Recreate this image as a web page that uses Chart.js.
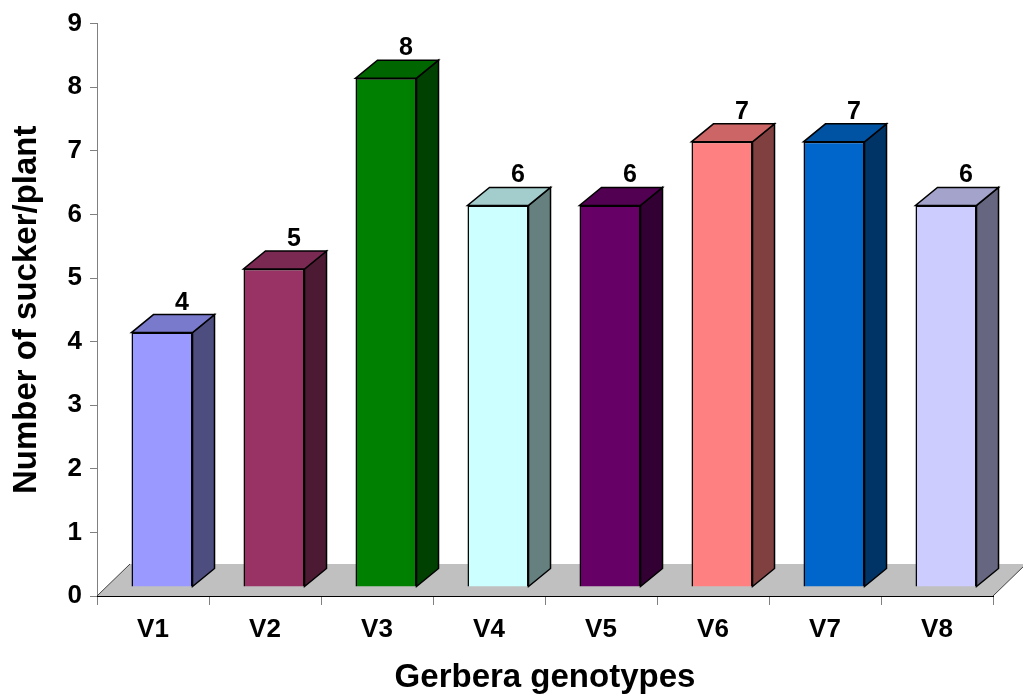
<!DOCTYPE html>
<html>
<head>
<meta charset="utf-8">
<script src="https://cdn.jsdelivr.net/npm/chart.js@4/dist/chart.umd.min.js"></script>
<style>
  html, body { margin: 0; padding: 0; background: #fff; }
  #wrap { width: 1023px; height: 698px; }
</style>
</head>
<body>
<div id="wrap"><canvas id="chart" width="1023" height="698"></canvas></div>
<script>
const CATEGORIES = ["V1", "V2", "V3", "V4", "V5", "V6", "V7", "V8"];
const SUCKERS = [4, 5, 8, 6, 6, 7, 7, 6];
const BAR_COLORS = ["#9999FF", "#993366", "#008000", "#CCFFFF", "#660066", "#FF8080", "#0066CC", "#CCCCFF"];
const Y_MIN = 0;
const Y_MAX = 9;
const Y_STEP = 1;

const FONT = "'Liberation Sans', Arial, sans-serif";
const FRONT_SHIFT = { x: 9, y: -9 };
const BAR_DEPTH = { x: 22, y: -18 };
const FLOOR_DEPTH = { x: 33, y: -32 };

function shade(hex, f) {
  const v = parseInt(hex.replace("#", ""), 16);
  const r = Math.round(((v >> 16) & 255) * f);
  const g = Math.round(((v >> 8) & 255) * f);
  const b = Math.round((v & 255) * f);
  return `rgb(${r}, ${g}, ${b})`;
}

function poly(ctx, pts, fill) {
  ctx.beginPath();
  ctx.moveTo(pts[0][0], pts[0][1]);
  pts.slice(1).forEach(p => ctx.lineTo(p[0], p[1]));
  ctx.closePath();
  ctx.fillStyle = fill;
  ctx.fill();
  ctx.stroke();
}

// floor under the bars, then shift the canvas so the bars stand back from the axis plane
const boxPlugin = {
  id: "box3d",
  beforeDatasetsDraw(chart) {
    const { ctx, chartArea: a } = chart;
    ctx.save();
    ctx.beginPath();
    ctx.moveTo(a.left, a.bottom);
    ctx.lineTo(a.right, a.bottom);
    ctx.lineTo(a.right + FLOOR_DEPTH.x, a.bottom + FLOOR_DEPTH.y);
    ctx.lineTo(a.left + FLOOR_DEPTH.x, a.bottom + FLOOR_DEPTH.y);
    ctx.closePath();
    ctx.fillStyle = "#C0C0C0";
    ctx.fill();
    ctx.lineWidth = 1;
    ctx.strokeStyle = "#404040";
    ctx.beginPath();
    ctx.moveTo(a.left, a.bottom);
    ctx.lineTo(a.left + FLOOR_DEPTH.x, a.bottom + FLOOR_DEPTH.y);
    ctx.moveTo(a.right, a.bottom);
    ctx.lineTo(a.right + FLOOR_DEPTH.x, a.bottom + FLOOR_DEPTH.y);
    ctx.stroke();
    ctx.strokeStyle = "#000";
    ctx.beginPath();
    ctx.moveTo(a.left, a.bottom + 0.5);
    ctx.lineTo(a.right, a.bottom + 0.5);
    ctx.stroke();
    ctx.restore();
    ctx.save();
    ctx.translate(FRONT_SHIFT.x, FRONT_SHIFT.y);
  },
  afterDatasetsDraw(chart) {
    const { ctx } = chart;
    const meta = chart.getDatasetMeta(0);
    ctx.lineWidth = 1.5;
    ctx.strokeStyle = "#000";
    meta.data.forEach((bar, i) => {
      const { x, y, base, width } = bar.getProps(["x", "y", "base", "width"], true);
      const left = x - width / 2;
      const right = x + width / 2;
      const dx = BAR_DEPTH.x, dy = BAR_DEPTH.y;
      poly(ctx, [[right, y], [right + dx, y + dy], [right + dx, base + dy], [right, base]], shade(BAR_COLORS[i], 0.5));
      poly(ctx, [[left, y], [right, y], [right + dx, y + dy], [left + dx, y + dy]], shade(BAR_COLORS[i], 0.8));
      ctx.fillStyle = "#000";
      ctx.font = `bold 25px ${FONT}`;
      ctx.textAlign = "center";
      ctx.textBaseline = "alphabetic";
      ctx.fillText(String(SUCKERS[i]), x + dx - 2, y + dy - 5);
    });
    ctx.restore();
  }
};

new Chart(document.getElementById("chart"), {
  type: "bar",
  data: {
    labels: CATEGORIES,
    datasets: [{
      data: SUCKERS,
      backgroundColor: BAR_COLORS,
      borderColor: "#000",
      borderWidth: 1.5,
      barPercentage: 0.545,
      categoryPercentage: 1
    }]
  },
  options: {
    responsive: false,
    animation: false,
    layout: { padding: { top: 23, right: 30, left: 0, bottom: 0 } },
    plugins: { legend: { display: false }, tooltip: { enabled: false } },
    scales: {
      x: {
        grid: { offset: true, drawOnChartArea: false, tickLength: 9, color: "#808080" },
        border: { color: "#000", width: 1 },
        ticks: { color: "#000", padding: 9, font: { family: FONT, size: 26, weight: "bold" } },
        title: { display: true, text: "Gerbera genotypes", color: "#000", font: { family: FONT, size: 33, weight: "bold" }, padding: { top: 0, bottom: 0 } },
        afterFit(scale) { scale.height = 102; }
      },
      y: {
        min: Y_MIN,
        max: Y_MAX,
        grid: { drawOnChartArea: false, tickLength: 7, color: "#808080" },
        border: { color: "#808080", width: 1 },
        ticks: { stepSize: Y_STEP, color: "#000", padding: 8, font: { family: FONT, size: 26, weight: "bold" } },
        title: { display: true, text: "Number of sucker/plant", color: "#000", font: { family: FONT, size: 33, weight: "bold" }, padding: { top: 7, bottom: 0 } },
        afterFit(scale) { scale.width = 97; }
      }
    }
  },
  plugins: [boxPlugin]
});
</script>
</body>
</html>
